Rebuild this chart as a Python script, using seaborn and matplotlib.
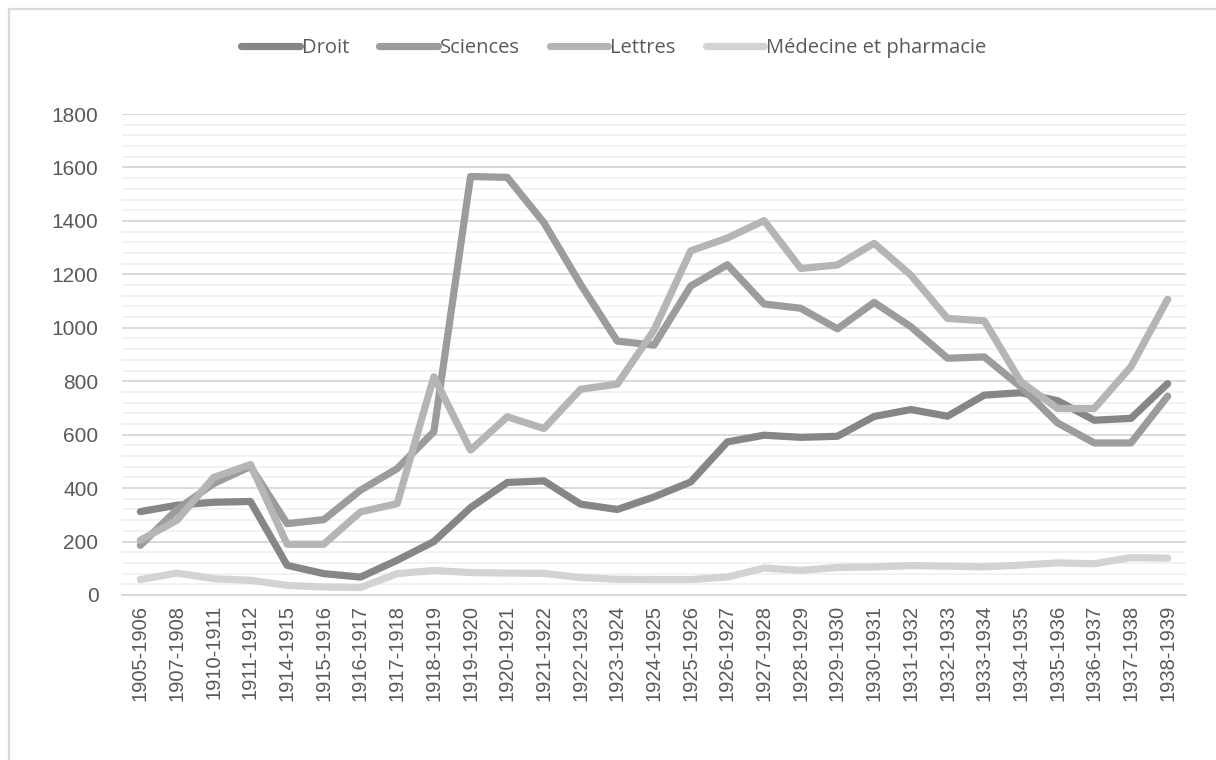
import numpy as np
import pandas as pd
import matplotlib
matplotlib.use("Agg")
import matplotlib.pyplot as plt
import seaborn as sns
from matplotlib.patches import Rectangle

years = ["1905-1906", "1907-1908", "1910-1911", "1911-1912", "1914-1915", "1915-1916",
         "1916-1917", "1917-1918", "1918-1919", "1919-1920", "1920-1921", "1921-1922",
         "1922-1923", "1923-1924", "1924-1925", "1925-1926", "1926-1927", "1927-1928",
         "1928-1929", "1929-1930", "1930-1931", "1931-1932", "1932-1933", "1933-1934",
         "1934-1935", "1935-1936", "1936-1937", "1937-1938", "1938-1939"]

droit = [312, 336, 347, 350, 111, 80, 67, 130, 200, 327, 421, 427, 340, 320, 367, 423,
         573, 598, 590, 594, 668, 694, 669, 748, 757, 727, 654, 661, 791]
sciences = [186, 320, 417, 481, 267, 282, 392, 473, 611, 1566, 1563, 1393, 1162, 950, 935,
            1156, 1236, 1089, 1073, 996, 1095, 1004, 886, 891, 779, 644, 569, 569, 744]
lettres = [205, 280, 440, 488, 190, 190, 311, 342, 817, 542, 667, 623, 770, 789, 991,
           1288, 1336, 1401, 1222, 1235, 1316, 1197, 1035, 1026, 798, 698, 698, 854, 1107]
medecine = [58, 82, 61, 55, 36, 30, 28, 80, 92, 84, 82, 81, 65, 59, 58, 58,
            67, 101, 92, 103, 105, 110, 108, 105, 112, 120, 117, 140, 138]

series_names = ["Droit", "Sciences", "Lettres", "Médecine et pharmacie"]
series_colors = ["#868686", "#9c9c9c", "#b5b5b5", "#d3d3d3"]

df = pd.DataFrame({
    "year": years * 4,
    "value": droit + sciences + lettres + medecine,
    "serie": sum([[n] * len(years) for n in series_names], []),
})

sns.set_theme(style="white")
plt.rcParams["font.family"] = ["Liberation Sans", "DejaVu Sans"]

fig = plt.figure(figsize=(12.16, 7.6), dpi=100)
ax = fig.add_axes([122 / 1216, 1 - 595 / 760, (1186 - 122) / 1216, (595 - 114) / 760])

sns.lineplot(data=df, x="year", y="value", hue="serie", hue_order=series_names,
             palette=series_colors, linewidth=5.2, ax=ax, sort=False,
             solid_capstyle="round", solid_joinstyle="round", legend=True)

ax.set_xlim(-0.5, len(years) - 0.5)
ax.set_ylim(0, 1800)
ax.set_yticks(np.arange(0, 1801, 200))
ax.set_yticks(np.arange(0, 1801, 40), minor=True)
ax.grid(axis="y", which="major", color="#d9d9d9", linewidth=1.4, zorder=0)
ax.grid(axis="y", which="minor", color="#f0f0f0", linewidth=1.2, zorder=0)
ax.grid(axis="x", visible=False)
ax.set_axisbelow(True)
for s in ["top", "right", "left"]:
    ax.spines[s].set_visible(False)
ax.spines["bottom"].set_color("#d9d9d9")
ax.spines["bottom"].set_linewidth(1.4)
ax.tick_params(axis="both", which="both", length=0, colors="#595959")
ax.tick_params(axis="y", labelsize=15, pad=17)
ax.tick_params(axis="x", labelsize=14.5, pad=7)
plt.setp(ax.get_xticklabels(), rotation=90)
ax.set_xlabel("")
ax.set_ylabel("")

handles, labels = ax.get_legend_handles_labels()
ax.get_legend().remove()
leg = fig.legend(handles, labels, loc="center", bbox_to_anchor=(614 / 1216, 1 - 48 / 760),
                 ncol=4, frameon=False, handlelength=2.9, handletextpad=0.1,
                 columnspacing=1.5, labelcolor="#595959",
                 prop={"family": ["Open Sans", "DejaVu Sans"], "size": 14.5})
for h in leg.legend_handles:
    h.set_linewidth(5.2)
    h.set_solid_capstyle("round")

fig.patches.append(Rectangle((9 / 1216, -0.05), 1.2, 1 - 9 / 760 + 0.05, transform=fig.transFigure,
                             fill=False, edgecolor="#d9d9d9", linewidth=1.6))

fig.savefig("out.png", dpi=100, facecolor="white")
